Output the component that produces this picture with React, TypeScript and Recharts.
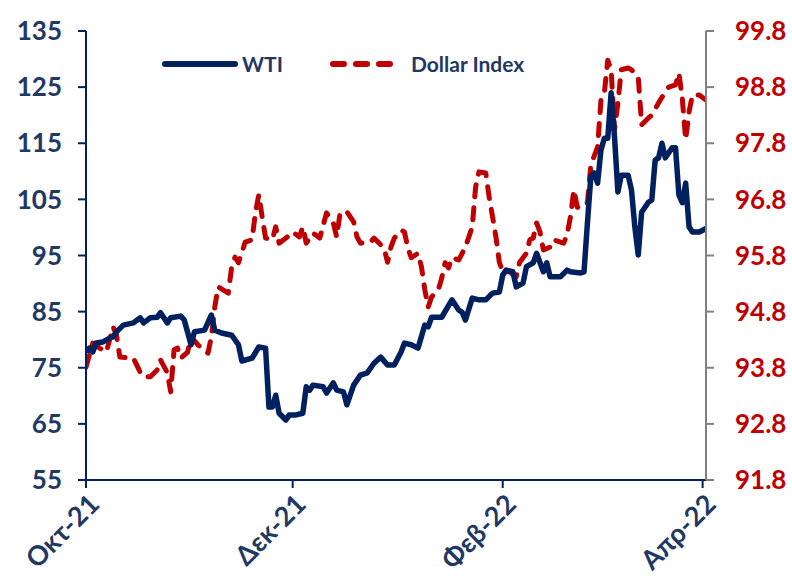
import React from 'react';
import { LineChart, Line, XAxis, YAxis } from 'recharts';

// days counted from 1 Oct 2021
const tickDays = [0, 61, 123, 182];
const tickLabels = ['Οκτ-21', 'Δεκ-21', 'Φεβ-22', 'Απρ-22'];
const leftTicks = [55, 65, 75, 85, 95, 105, 115, 125, 135];
const rightTicks = [91.8, 92.8, 93.8, 94.8, 95.8, 96.8, 97.8, 98.8, 99.8];

const wtiDays = [
  0, 1, 2, 3, 5, 7, 8, 9, 11, 14,
  16, 17, 19, 21, 22, 24, 25, 28, 29, 31,
  32, 35, 37, 38, 40, 43, 45, 46, 49, 51,
  53, 54, 55, 56, 57, 59, 60, 62, 64, 65,
  66, 67, 70, 71, 73, 74, 76, 77, 79, 81,
  83, 85, 87, 89, 91, 93, 94, 96, 98, 100,
  101, 102, 105, 108, 110, 111, 112, 114, 116, 118,
  120, 122, 123, 124, 126, 127, 129, 130, 132, 133,
  135, 136, 137, 140, 142, 143, 146, 147, 148, 149,
  150, 151, 152, 153, 154, 155, 156, 157, 158, 160,
  161, 162, 163, 164, 166, 167, 168, 169, 170, 171,
  173, 174, 175, 176, 177, 178, 179, 181, 183,
];
const wtiValues = [
  77.8, 78.5, 77.8, 79.4, 79.6, 80.3, 80.5, 81.4, 82.6, 83.0,
  83.9, 83.0, 83.9, 84.0, 84.8, 83.0, 83.9, 84.2, 83.5, 79.1,
  81.4, 81.7, 84.4, 81.7, 81.2, 80.8, 79.1, 76.2, 76.7, 78.7,
  78.5, 68.0, 68.0, 70.1, 66.9, 65.7, 66.6, 66.6, 66.9, 71.6,
  71.0, 71.9, 71.6, 70.5, 72.3, 71.0, 70.7, 68.4, 71.9, 73.7,
  74.1, 75.8, 76.9, 75.5, 75.5, 77.8, 79.4, 79.1, 78.5, 82.6,
  82.3, 84.0, 84.0, 87.1, 85.3, 84.9, 83.5, 87.4, 87.1, 87.1,
  88.3, 88.5, 91.5, 92.4, 92.1, 89.4, 90.1, 93.0, 93.7, 95.4,
  92.1, 93.7, 91.2, 91.2, 92.4, 92.1, 91.9, 92.1, 100.8, 109.0,
  109.7, 107.9, 113.8, 115.9, 115.9, 124.0, 116.1, 106.3, 109.3, 109.3,
  106.7, 100.1, 95.1, 102.7, 104.5, 104.9, 112.0, 112.4, 115.0, 112.4,
  114.2, 114.2, 105.8, 104.4, 107.9, 100.1, 99.2, 99.2, 99.8,
];

const dxyDays = [
  0, 2, 4, 6, 8, 9, 10, 14, 16, 17,
  19, 21, 22, 24, 25, 26, 27, 28, 30, 31,
  33, 36, 37, 38, 39, 42, 43, 44, 45, 47,
  49, 50, 51, 52, 53, 55, 56, 57, 59, 61,
  63, 64, 65, 67, 69, 71, 73, 74, 75, 77,
  79, 80, 81, 84, 85, 88, 89, 90, 91, 93,
  94, 95, 96, 98, 99, 100, 101, 102, 104, 105,
  106, 107, 108, 110, 112, 114, 115, 116, 118, 119,
  120, 121, 122, 123, 125, 127, 128, 130, 131, 132,
  133, 134, 135, 137, 138, 141, 142, 143, 144, 145,
  146, 148, 149, 151, 152, 153, 154, 155, 156, 157,
  158, 160, 161, 163, 164, 166, 167, 169, 170, 172,
  174, 175, 176, 177, 178, 179, 181, 183,
];
const dxyValues = [
  93.81, 94.24, 94.15, 94.08, 94.53, 94.38, 93.99, 93.97, 93.72, 93.64,
  93.64, 93.76, 93.94, 93.71, 93.37, 94.12, 94.15, 93.97, 94.08, 94.35,
  94.21, 94.06, 94.35, 94.88, 95.24, 95.13, 95.6, 95.77, 95.67, 96.04,
  96.08, 96.56, 96.88, 96.49, 96.11, 96.08, 96.31, 96.02, 96.11, 96.22,
  96.13, 96.31, 96.02, 96.2, 96.11, 96.56, 96.38, 96.13, 96.56, 96.58,
  96.4, 96.13, 96.02, 96.04, 96.11, 95.93, 95.68, 95.95, 96.11, 96.25,
  96.22, 95.93, 95.76, 95.84, 95.6, 95.19, 94.88, 95.06, 95.19, 95.4,
  95.67, 95.58, 95.76, 95.72, 95.95, 96.31, 97.02, 97.29, 97.27, 96.84,
  96.49, 96.13, 95.68, 95.51, 95.51, 95.42, 95.68, 95.84, 96.08, 96.11,
  96.38, 96.22, 95.9, 95.95, 96.08, 96.02, 96.17, 96.49, 96.97, 96.66,
  96.65, 96.74, 97.41, 97.73, 98.57, 98.7, 99.28, 99.11, 98.04, 98.52,
  99.11, 99.14, 99.11, 98.98, 98.13, 98.25, 98.3, 98.52, 98.62, 98.8,
  98.84, 99.05, 98.6, 97.86, 98.36, 98.66, 98.66, 98.57,
];

const wtiData = wtiDays.map((day, i) => ({ day, wti: wtiValues[i] }));
const dxyData = dxyDays.map((day, i) => ({ day, dxy: dxyValues[i] }));

const NAVY = '#002060';
const LABEL_NAVY = '#1F3864';
const RED = '#C00000';
const FONT = 'Lato, "Open Sans", sans-serif';

function XTick({ x, y, payload }: any) {
  const label = tickLabels[tickDays.indexOf(payload.value)];
  return (
    <g transform={`translate(${x + 15},${y + 16}) rotate(-45)`}>
      <text textAnchor="end" fill={LABEL_NAVY} fontSize={27} fontWeight={700} fontFamily={FONT}>
        {label}
      </text>
    </g>
  );
}

function ChartLegend() {
  return (
    <div
      style={{
        position: 'absolute',
        left: 161,
        top: 51,
        display: 'flex',
        alignItems: 'center',
        fontFamily: FONT,
        fontWeight: 700,
        fontSize: 21,
        color: LABEL_NAVY,
      }}
    >
      <svg width={80} height={10}>
        <line x1={4} y1={5} x2={74} y2={5} stroke={NAVY} strokeWidth={6} strokeLinecap="round" />
      </svg>
      <span style={{ marginLeft: 1 }}>WTI</span>
      <svg width={76} height={10} style={{ marginLeft: 46 }}>
        <line x1={4} y1={5} x2={72} y2={5} stroke={RED} strokeWidth={6} strokeLinecap="round" strokeDasharray="11 12" />
      </svg>
      <span style={{ marginLeft: 6 }}>Dollar Index</span>
    </div>
  );
}

export default function App() {
  return (
    <div style={{ position: 'absolute', left: 0, top: 0, width: 792, height: 577, background: '#fff' }}>
      <LineChart width={792} height={577} margin={{ top: 31, right: 6, bottom: 7, left: 16 }}>
        <XAxis
          dataKey="day"
          type="number"
          domain={[0, 183]}
          ticks={tickDays}
          allowDataOverflow
          tick={<XTick />}
          tickSize={8}
          tickMargin={2}
          height={90}
          axisLine={{ stroke: NAVY, strokeWidth: 2 }}
          tickLine={{ stroke: NAVY, strokeWidth: 2 }}
        />
        <YAxis
          yAxisId="left"
          domain={[55, 135]}
          ticks={leftTicks}
          width={70}
          tickSize={8}
          tickMargin={16}
          axisLine={{ stroke: NAVY, strokeWidth: 2 }}
          tickLine={{ stroke: NAVY, strokeWidth: 2 }}
          tick={{ fill: LABEL_NAVY, fontSize: 26, fontWeight: 700, fontFamily: FONT }}
        />
        <YAxis
          yAxisId="right"
          orientation="right"
          domain={[91.8, 99.8]}
          ticks={rightTicks}
          tickFormatter={(v: number) => v.toFixed(1)}
          width={80}
          tickSize={8}
          tickMargin={21}
          axisLine={{ stroke: '#808080', strokeWidth: 2 }}
          tickLine={{ stroke: '#808080', strokeWidth: 2 }}
          tick={{ fill: RED, fontSize: 26, fontWeight: 700, fontFamily: FONT, textAnchor: 'start' }}
        />
        <Line
          yAxisId="right"
          data={dxyData}
          dataKey="dxy"
          name="Dollar Index"
          type="linear"
          stroke={RED}
          strokeWidth={5}
          strokeDasharray="12 11"
          strokeLinecap="round"
          strokeLinejoin="round"
          dot={false}
          isAnimationActive={false}
        />
        <Line
          yAxisId="left"
          data={wtiData}
          dataKey="wti"
          name="WTI"
          type="linear"
          stroke={NAVY}
          strokeWidth={5.5}
          strokeLinejoin="round"
          dot={false}
          isAnimationActive={false}
        />
      </LineChart>
      <ChartLegend />
    </div>
  );
}
